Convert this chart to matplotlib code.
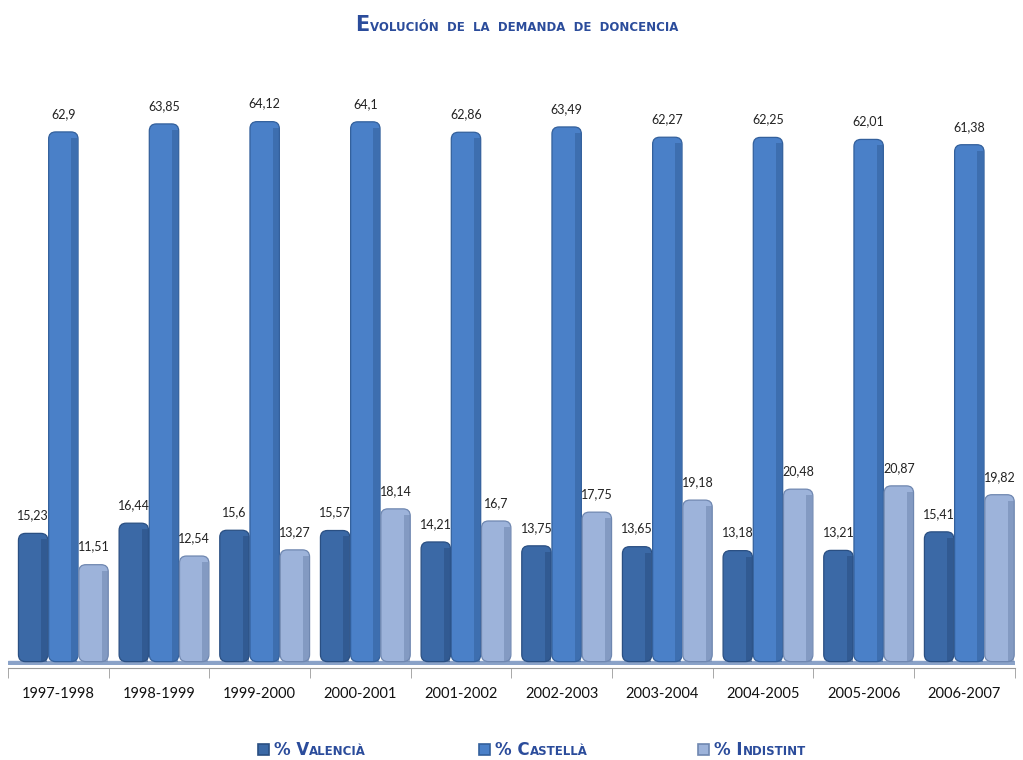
import matplotlib
matplotlib.use('Agg')
import matplotlib.pyplot as plt
from matplotlib.patches import FancyBboxPatch, Rectangle
from matplotlib import font_manager
import numpy as np

years = ['1997-1998', '1998-1999', '1999-2000', '2000-2001', '2001-2002',
         '2002-2003', '2003-2004', '2004-2005', '2005-2006', '2006-2007']
valencia = [15.23, 16.44, 15.6, 15.57, 14.21, 13.75, 13.65, 13.18, 13.21, 15.41]
castella = [62.9, 63.85, 64.12, 64.1, 62.86, 63.49, 62.27, 62.25, 62.01, 61.38]
indistint = [11.51, 12.54, 13.27, 18.14, 16.7, 17.75, 19.18, 20.48, 20.87, 19.82]

series = [
    (valencia, '#3b69a6', '#2a4f82', ('% V', 'ALENCIÀ')),
    (castella, '#4a80c8', '#33609c', ('% C', 'ASTELLÀ')),
    (indistint, '#9db3da', '#6f87b0', ('% I', 'NDISTINT')),
]

title_col = '#2b4c9b'
plt.rcParams['font.family'] = ['Lato', 'DejaVu Sans']

# narrow font for title/legend
names = {f.name for f in font_manager.fontManager.ttflist}
narrow = 'Liberation Sans Narrow' if 'Liberation Sans Narrow' in names else 'DejaVu Sans'

fig = plt.figure(figsize=(10.23, 7.60), dpi=100)
ax = fig.add_axes([0.0078, 0.125, 0.984, 0.8355])

x = np.arange(len(years))
w = 0.3
ylo, yhi = -0.4, 75
ax.set_xlim(-0.5, len(years) - 0.5)
ax.set_ylim(ylo, yhi)

# thin floor under the bars
ax.add_patch(Rectangle((-0.5, ylo), len(years), -ylo + 0.05, color='#8aa2c8', zorder=1))

# aspect for rounded corners: px per x-unit / px per y-unit
asp = (0.984 * 1023 / len(years)) / (0.8355 * 760 / (yhi - ylo))
for i, (vals, fc, ec, _) in enumerate(series):
    offs = (i - 1) * w + 0.05
    bars = ax.bar(x + offs, vals, w, color=fc, zorder=2)
    for b, v in zip(bars, vals):
        b.set_visible(False)
        p = FancyBboxPatch((b.get_x() + 0.004, 0), b.get_width() - 0.008, b.get_height(),
                           boxstyle='round,pad=0,rounding_size=0.07',
                           mutation_aspect=asp, fc=fc, ec=ec, lw=0.9, zorder=3)
        ax.add_patch(p)
        # darker side for the 3D look
        ax.add_patch(Rectangle((b.get_x() + b.get_width() - 0.07, 0), 0.06,
                               b.get_height() - 0.7, color=ec, alpha=0.55, lw=0, zorder=4))
        ax.annotate(f'{v:g}'.replace('.', ','), (b.get_x() + b.get_width() / 2, v),
                    textcoords='offset points', xytext=(0, 13), ha='center',
                    va='center', fontsize=9, color='#222222')

for s in ['top', 'right', 'left']:
    ax.spines[s].set_visible(False)
ax.spines['bottom'].set_color('#9a9a9a')
ax.spines['bottom'].set_position(('data', ylo - 0.3))
ax.set_yticks([])
ax.set_xticks(np.arange(len(years) + 1) - 0.5, minor=True)
ax.tick_params(axis='x', which='minor', length=7, color='#9a9a9a')
ax.set_xticks(x)
ax.set_xticklabels(years, fontsize=10.5, color='#111111')
ax.tick_params(axis='x', which='major', length=0, pad=14)
ax.patch.set_visible(False)


def smallcaps(xf, yf, parts, sizes, color, ha='left'):
    # draw text runs one after another; first run big, rest small
    fig.canvas.draw()
    r = fig.canvas.get_renderer()
    arts = []
    cur = xf
    for txt, sz in zip(parts, sizes):
        t = fig.text(cur, yf, txt, fontsize=sz, color=color, va='baseline',
                     family=narrow, fontweight='bold')
        bb = t.get_window_extent(renderer=r)
        cur += bb.width / fig.bbox.width
        arts.append(t)
    total = cur - xf
    if ha == 'center':
        for t in arts:
            t.set_x(t.get_position()[0] - total / 2)
    return arts


smallcaps(0.505, 1 - 31 / 760,
          ['E', 'VOLUCIÓN  DE  LA  DEMANDA  DE  DONCENCIA'], [15, 8.5], title_col, ha='center')

leg_x = [0.252, 0.468, 0.682]
for lx, (_, fc, ec, lab) in zip(leg_x, series):
    fig.patches.append(Rectangle((lx, 1 - 755 / 760), 0.011, 0.0145, transform=fig.transFigure,
                                 fc=fc, ec=ec, lw=1.2))
    smallcaps(lx + 0.016, 1 - 755 / 760, [lab[0], lab[1]], [12, 8.5], title_col)

plt.savefig('out.png', dpi=100)
